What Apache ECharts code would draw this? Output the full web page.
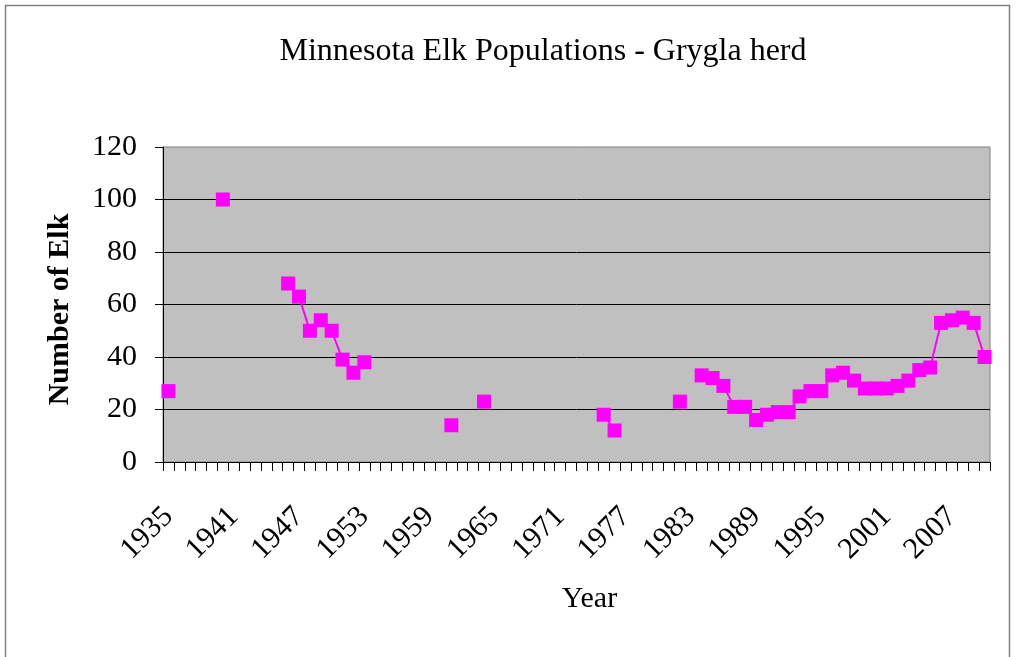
<!DOCTYPE html>
<html>
<head>
<meta charset="utf-8">
<title>Minnesota Elk Populations - Grygla herd</title>
<script src="https://cdn.jsdelivr.net/npm/echarts@6/dist/echarts.min.js"></script>
<style>
  html, body { margin: 0; padding: 0; background: #fff; }
  #chart { width: 1016px; height: 657px; }
</style>
</head>
<body>
<div id="chart"></div>
<script>
// years on the category axis
var years = [
  '1935','1936','1937','1938','1939','1940','1941','1942','1943','1944',
  '1945','1946','1947','1948','1949','1950','1951','1952','1953','1954',
  '1955','1956','1957','1958','1959','1960','1961','1962','1963','1964',
  '1965','1966','1967','1968','1969','1970','1971','1972','1973','1974',
  '1975','1976','1977','1978','1979','1980','1981','1982','1983','1984',
  '1985','1986','1987','1988','1989','1990','1991','1992','1993','1994',
  '1995','1996','1997','1998','1999','2000','2001','2002','2003','2004',
  '2005','2006','2007','2008','2009','2010'
];
// number of elk, null = no count that year
var elk = [
  27, null, null, null, null, 100, null, null, null, null,
  null, 68, 63, 50, 54, 50, 39, 34, 38, null,
  null, null, null, null, null, null, 14, null, null, 23,
  null, null, null, null, null, null, null, null, null, null,
  18, 12, null, null, null, null, null, 23, null, 33,
  32, 29, 21, 21, 16, 18, 19, 19, 25, 27,
  27, 33, 34, 31, 28, 28, 28, 29, 31, 35,
  36, 53, 54, 55, 53, 40
];
var yTicks = [0, 20, 40, 60, 80, 100, 120];

var serif = '"Liberation Serif", "Times New Roman", serif';
var myChart = echarts.init(document.getElementById('chart'));

myChart.setOption({
  backgroundColor: '#fff',
  animation: false,
  title: {
    text: 'Minnesota Elk Populations - Grygla herd',
    left: 538,
    top: 31,
    textAlign: 'center',
    textStyle: { fontFamily: serif, fontSize: 32, fontWeight: 'normal', color: '#000' }
  },
  graphic: [{
    type: 'rect',
    shape: { x: 5.5, y: 5.5, width: 1004, height: 700 },
    style: { fill: 'none', stroke: '#808080', lineWidth: 1.5 },
    silent: true
  }],
  grid: {
    left: 163, right: 26, top: 147, bottom: 195,
    show: true,
    backgroundColor: '#C0C0C0',
    borderColor: '#808080',
    borderWidth: 1
  },
  xAxis: {
    type: 'category',
    data: years,
    name: 'Year',
    nameLocation: 'middle',
    nameGap: 122,
    nameTextStyle: { fontFamily: serif, fontSize: 30, color: '#000', padding: [0, 0, 0, 26] },
    axisLine: { lineStyle: { color: '#000', width: 1 } },
    axisTick: { show: true, interval: 0, length: 9, lineStyle: { color: '#000' } },
    axisLabel: {
      interval: 5,
      rotate: 45,
      margin: 50,
      fontFamily: serif,
      fontSize: 30,
      color: '#000'
    },
    splitLine: { show: false }
  },
  yAxis: {
    type: 'value',
    min: yTicks[0],
    max: yTicks[yTicks.length - 1],
    interval: 20,
    name: 'Number of Elk',
    nameLocation: 'middle',
    nameGap: 88,
    nameTextStyle: { fontFamily: serif, fontSize: 30, fontWeight: 'bold', color: '#000', padding: [0, 10, 0, 0] },
    axisLine: { show: true, lineStyle: { color: '#000', width: 1 } },
    axisTick: { show: true, length: 8, lineStyle: { color: '#000' } },
    axisLabel: { margin: 26, fontFamily: serif, fontSize: 30, color: '#000' },
    splitLine: { show: true, showMaxLine: false, lineStyle: { color: '#000', width: 1 } }
  },
  series: [{
    name: 'Grygla herd',
    type: 'line',
    data: elk,
    connectNulls: false,
    symbol: 'rect',
    symbolSize: 14,
    showAllSymbol: true,
    itemStyle: { color: '#FF00FF' },
    lineStyle: { color: '#FF00FF', width: 2 }
  }]
});
</script>
</body>
</html>
